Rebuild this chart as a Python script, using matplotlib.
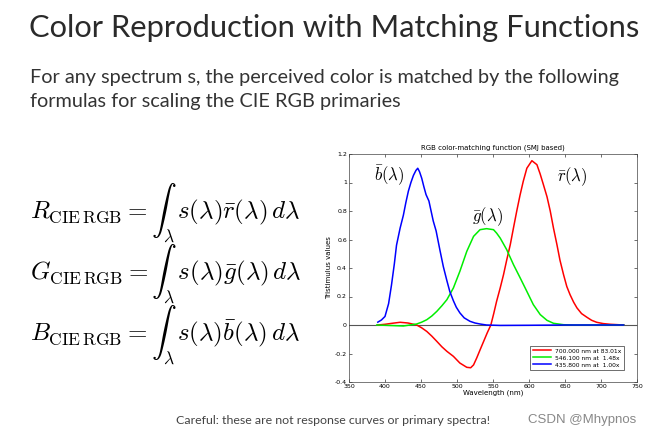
import numpy as np
import matplotlib
matplotlib.use("Agg")
import matplotlib.pyplot as plt

# r-bar (700.000 nm primary)
r_wl = [390, 400, 410, 421, 432, 444, 451, 458, 465, 472, 479, 486, 495, 504, 513.6, 519,
        523, 527.5, 532, 537, 542, 547, 551, 555, 560, 564.6, 569, 574, 578.5, 583,
        587.5, 592, 597, 604, 611, 615.5, 620, 625, 629.5, 634, 638.8, 643, 648, 652.5,
        657, 662, 666.6, 673, 680.5, 687, 694, 703, 713, 731.5]
r_val = [0.0, 0.005, 0.012, 0.019, 0.014, 0.0, -0.02, -0.045, -0.078, -0.115, -0.153,
         -0.185, -0.22, -0.267, -0.297, -0.3, -0.28, -0.23, -0.175, -0.115, -0.055, 0.0,
         0.08, 0.166, 0.26, 0.353, 0.455, 0.564, 0.683, 0.8, 0.91, 1.008, 1.10, 1.153,
         1.125, 1.06, 0.985, 0.9, 0.8, 0.68, 0.564, 0.455, 0.353, 0.27, 0.213, 0.16, 0.12,
         0.08, 0.054, 0.033, 0.019, 0.01, 0.005, 0.0]

# g-bar (546.100 nm primary)
g_wl = [388.5, 405, 425.5, 444, 451, 458, 465, 472, 479, 486, 495, 504, 513.6, 523, 532,
        541, 550.7, 555, 560, 569, 578.5, 587.8, 597, 606, 615.6, 624.9, 634, 648, 662, 731.5]
g_val = [0.0, -0.003, -0.007, 0.007, 0.02, 0.037, 0.063, 0.096, 0.135, 0.178, 0.26,
         0.377, 0.517, 0.622, 0.669, 0.676, 0.669, 0.645, 0.61, 0.529, 0.423, 0.33,
         0.236, 0.143, 0.073, 0.033, 0.012, 0.002, 0.0, 0.0]

# b-bar (435.800 nm primary)
b_wl = [390, 395, 400, 405, 409, 413, 416, 421, 425.5, 429, 432.5, 436, 439.5, 443, 445.5,
        448, 451, 454, 457, 461, 464, 467, 471, 476.5, 481, 486, 490, 495, 499, 504, 510,
        518, 525, 532, 541, 560, 600, 650, 731.5]
b_val = [0.02, 0.035, 0.06, 0.15, 0.28, 0.43, 0.56, 0.68, 0.77, 0.86, 0.94, 1.0, 1.05,
         1.085, 1.10, 1.075, 1.03, 0.97, 0.915, 0.87, 0.80, 0.73, 0.66, 0.52, 0.41, 0.31,
         0.235, 0.17, 0.125, 0.085, 0.05, 0.026, 0.014, 0.007, 0.0, -0.003, -0.002, 0.0, 0.0]

legend_labels = ["700.000 nm at 83.01x", "546.100 nm at  1.48x", "435.800 nm at  1.00x"]
x_ticks = [350, 400, 450, 500, 550, 600, 650, 700, 750]
y_ticks = [-0.4, -0.2, 0, 0.2, 0.4, 0.6, 0.8, 1, 1.2]

fig = plt.figure(figsize=(6.71, 4.38), dpi=100)
fig.patch.set_facecolor("white")

# slide text
fig.text(29 / 671, 1 - 28 / 438, "Color Reproduction with Matching Functions",
         fontsize=22.2, family="Lato", color="#2a2a2a", va="center")
fig.text(30 / 671, 1 - 78 / 438, "For any spectrum s, the perceived color is matched by the following",
         fontsize=14.3, family="Lato", color="#333333", va="center")
fig.text(30 / 671, 1 - 102 / 438, "formulas for scaling the CIE RGB primaries",
         fontsize=14.3, family="Lato", color="#333333", va="center")

plt.rcParams["mathtext.fontset"] = "cm"
eqs = [r"$R_{\mathrm{CIE\,RGB}} = \int_{\lambda}\, s(\lambda)\bar{r}(\lambda)\,d\lambda$",
       r"$G_{\mathrm{CIE\,RGB}} = \int_{\lambda}\, s(\lambda)\bar{g}(\lambda)\,d\lambda$",
       r"$B_{\mathrm{CIE\,RGB}} = \int_{\lambda}\, s(\lambda)\bar{b}(\lambda)\,d\lambda$"]
for i, eq in enumerate(eqs):
    fig.text(30 / 671, 1 - (213 + 61 * i) / 438, eq, fontsize=18, va="center")

fig.text(176 / 671, 1 - 420 / 438, "Careful: these are not response curves or primary spectra!",
         fontsize=8.9, family="Lato", color="#444444", va="center")
fig.text(528 / 671, 1 - 420 / 438, "CSDN @Mhypnos",
         fontsize=9.5, family="Liberation Sans", color="#888888", va="center")

# chart
ax = fig.add_axes([349 / 671, 1 - 382 / 438, 288 / 671, 228 / 438])
ax.axhline(0, color="#555555", lw=0.8)
ax.plot(r_wl, r_val, color="#ff0000", lw=1.1, label=legend_labels[0])
ax.plot(g_wl, g_val, color="#00ee00", lw=1.1, label=legend_labels[1])
ax.plot(b_wl, b_val, color="#0000ff", lw=1.1, label=legend_labels[2])

ax.set_xlim(350, 750)
ax.set_ylim(-0.4, 1.2)
ax.set_xticks(x_ticks)
ax.set_yticks(y_ticks)
ax.set_yticklabels(["-0.4", "-0.2", "0", "0.2", "0.4", "0.6", "0.8", "1", "1.2"])
ax.tick_params(direction="in", top=True, right=True, labelsize=4.5, length=2, width=0.4, pad=1.5)
for s in ax.spines.values():
    s.set_linewidth(0.5)
    s.set_color("#444444")
ax.set_title("RGB color-matching function (SMJ based)", fontsize=5, pad=3)
ax.set_xlabel("Wavelength (nm)", fontsize=5, labelpad=0.5)
ax.set_ylabel("Tristimulus values", fontsize=5, labelpad=2)

ax.text(406, 1.05, r"$\bar{b}(\lambda)$", fontsize=12, ha="center", va="center")
ax.text(542, 0.76, r"$\bar{g}(\lambda)$", fontsize=12, ha="center", va="center")
ax.text(660, 1.04, r"$\bar{r}(\lambda)$", fontsize=12, ha="center", va="center")

leg = ax.legend(loc="lower right", fontsize=4.3, frameon=True, fancybox=False,
                edgecolor="black", handlelength=3, borderpad=0.4, labelspacing=0.3,
                bbox_to_anchor=(0.965, 0.04))
leg.get_frame().set_linewidth(0.5)

fig.savefig("out.png", dpi=100)
